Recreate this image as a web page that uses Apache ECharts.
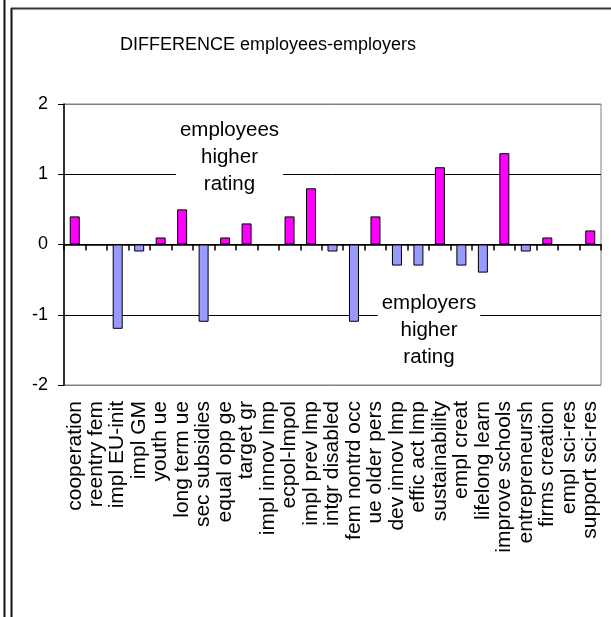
<!DOCTYPE html>
<html>
<head>
<meta charset="utf-8">
<script src="https://cdn.jsdelivr.net/npm/echarts@6/dist/echarts.min.js"></script>
<style>
  html, body { margin: 0; padding: 0; background: #fff; }
  #chart { width: 611px; height: 617px; }
</style>
</head>
<body>
<div id="chart"></div>
<script>
var categories = ['cooperation', 'reentry fem', 'impl EU-init', 'impl GM', 'youth ue', 'long term ue',
    'sec subsidies', 'equal opp ge', 'target gr', 'impl innov lmp', 'ecpol-lmpol', 'impl prev lmp',
    'intgr disabled', 'fem nontrd occ', 'ue older pers', 'dev innov lmp', 'effic act lmp', 'sustainability',
    'empl creat', 'lifelong learn', 'improve schools', 'entrepreneursh', 'firms creation', 'empl sci-res',
    'support sci-res'];
var differences = [0.4, 0, -1.2, -0.1, 0.1, 0.5, -1.1, 0.1, 0.3, 0, 0.4, 0.8, -0.1, -1.1, 0.4, -0.3, -0.3,
    1.1, -0.3, -0.4, 1.3, -0.1, 0.1, 0, 0.2];
var yTicks = ['-2', '-1', '0', '1', '2'];

var font = 'Liberation Sans, Arial, sans-serif';
var myChart = echarts.init(document.getElementById('chart'));

myChart.setOption({
    animation: false,
    grid: {
        left: 64, top: 104, right: 10, bottom: 232,
        show: true, borderColor: '#808080', borderWidth: 1, backgroundColor: 'transparent'
    },
    xAxis: [{
        type: 'category',
        data: categories,
        position: 'bottom',
        axisLine: { show: false, onZero: false },
        axisTick: { show: false },
        axisLabel: { rotate: 90, margin: 16, color: '#000', fontSize: 21, fontFamily: font, interval: 0 }
    }, {
        type: 'category',
        data: categories,
        position: 'bottom',
        axisLine: { show: true, onZero: true, lineStyle: { color: '#000', width: 1.5 } },
        axisTick: { show: true, interval: 0, length: 6, lineStyle: { color: '#000', width: 1.5 } },
        axisLabel: { show: false, interval: 0 }
    }],
    yAxis: {
        type: 'value',
        min: -2, max: 2, interval: 1,
        axisLine: { show: true, lineStyle: { color: '#000', width: 1.5 } },
        axisTick: { show: true, length: 6, lineStyle: { color: '#000' } },
        axisLabel: {
            margin: 16, color: '#000', fontSize: 18, fontFamily: font,
            formatter: function (v) { return yTicks[v + 2]; }
        },
        splitLine: { show: true, lineStyle: { color: ['#808080', '#000', '#000', '#000', '#808080'], width: 1 } }
    },
    series: [{
        type: 'bar',
        xAxisIndex: 0,
        data: differences,
        barWidth: 10,
        itemStyle: {
            color: function (p) { return p.value >= 0 ? '#ff00ff' : '#9999ff'; },
            borderColor: '#000',
            borderWidth: 1
        }
    }],
    graphic: [
        { type: 'text', z: 10, style: { text: 'DIFFERENCE employees-employers', x: 268, y: 45,
            textAlign: 'center', textVerticalAlign: 'middle', font: '18px ' + font, fill: '#000' } },
        { type: 'text', z: 10, style: { text: 'employees\nhigher\nrating', x: 229.5, y: 157,
            textAlign: 'center', textVerticalAlign: 'middle', font: '20.5px ' + font, fill: '#000',
            lineHeight: 27, backgroundColor: '#fff', padding: [0, 4] } },
        { type: 'text', z: 10, style: { text: 'employers\nhigher\nrating', x: 429, y: 330,
            textAlign: 'center', textVerticalAlign: 'middle', font: '20.5px ' + font, fill: '#000',
            lineHeight: 27, backgroundColor: '#fff', padding: [0, 4] } },
        { type: 'line', z: 10, shape: { x1: 4.5, y1: 0, x2: 4.5, y2: 617 }, style: { stroke: '#111', lineWidth: 2 } },
        { type: 'line', z: 10, shape: { x1: 11.5, y1: 8, x2: 11.5, y2: 617 }, style: { stroke: '#111', lineWidth: 2 } },
        { type: 'line', z: 10, shape: { x1: 11, y1: 8.5, x2: 611, y2: 8.5 }, style: { stroke: '#333', lineWidth: 2 } }
    ]
});
</script>
</body>
</html>
